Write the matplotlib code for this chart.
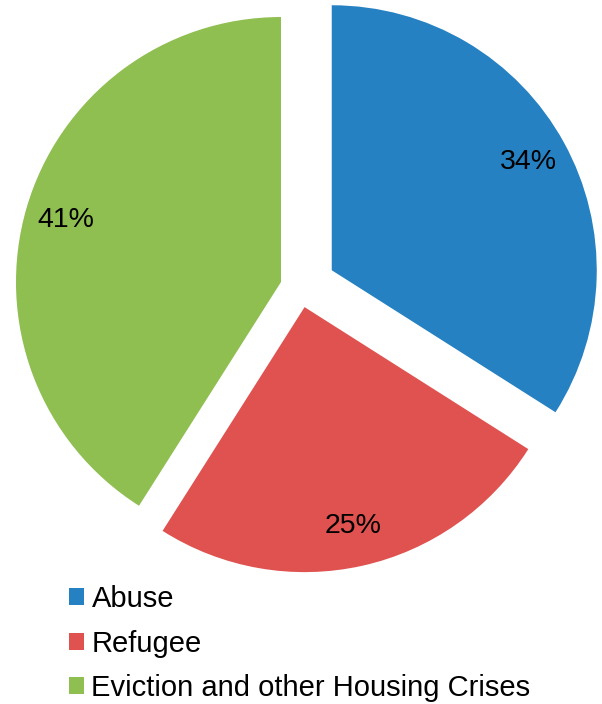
import matplotlib
matplotlib.use('Agg')
import matplotlib.pyplot as plt

# data
labels = ['Abuse', 'Refugee', 'Eviction and other Housing Crises']
shares = [34, 25, 41]
colors = ['#2581c1', '#df524f', '#8fbe51']
# slice offsets, in pixels
explode = [36, 20, 20]

plt.rcParams['font.family'] = ['Liberation Sans', 'DejaVu Sans']

W, H = 602, 704
fig = plt.figure(figsize=(W / 100, H / 100), dpi=100)
ax = fig.add_axes([0, 0, 1, 1])

# pie centre and radius in pixel units (y measured from bottom)
cx, cy, R = 300.2, H - 287.6, 265

wedges, texts, autotexts = ax.pie(
    shares, colors=colors, explode=explode, startangle=90, counterclock=False,
    center=(cx, cy), radius=R, autopct='%.0f%%', pctdistance=0.845,
    textprops={'fontsize': 20.5, 'color': 'black'},
    wedgeprops={'linewidth': 0})

ax.set_xlim(0, W)
ax.set_ylim(0, H)
ax.set_aspect('equal', adjustable='datalim')
ax.axis('off')

fig.legend(wedges, labels, loc='upper left', bbox_to_anchor=(69 / W, 1 - 585 / H),
           frameon=False, fontsize=21, handlelength=0.52, handleheight=0.52,
           handletextpad=0.25, labelspacing=0.57, borderpad=0, borderaxespad=0)

fig.savefig('out.png', dpi=100)
